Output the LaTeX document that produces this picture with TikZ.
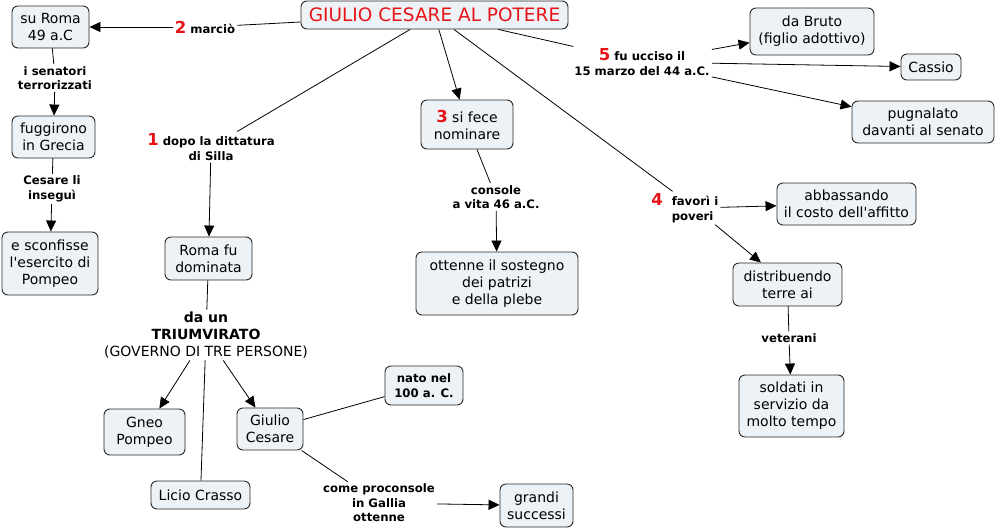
\documentclass[tikz,border=0pt]{standalone}
\usepackage{fontspec}
\setmainfont{DejaVu Sans}
\usetikzlibrary{arrows.meta}
\definecolor{boxfill}{RGB}{236,242,245}
\definecolor{boxline}{RGB}{40,40,40}
\definecolor{numred}{RGB}{230,20,25}
\newcommand{\boxfont}{\fontsize{14}{17}\selectfont}
\newcommand{\lblfont}{\fontsize{11.7}{14.5}\selectfont\bfseries}
\newcommand{\nm}[1]{{\fontsize{16.5}{14.5}\selectfont\bfseries\color{numred}#1}}
\newcommand{\apo}{\textquotesingle}
\tikzset{
  cbox/.style={draw=boxline, fill=boxfill, rounded corners=6pt, line width=0.9pt, align=center, font=\boxfont, inner sep=2pt},
  lbl/.style={align=center, font=\lblfont, inner sep=2pt},
  conn/.style={line width=0.8pt, draw=black},
  arr/.style={conn, -{Triangle[length=11pt,width=10pt]}},
}
\begin{document}
\begin{tikzpicture}[x=1pt,y=-1pt]
\useasboundingbox[fill=white] (0,0) rectangle (996,531);
% boxes
\node[cbox, minimum width=267, minimum height=28, text=numred, font=\fontsize{18.5}{20}\selectfont] (title) at (434.5,15) {GIULIO CESARE AL POTERE};
\node[cbox, minimum width=77, minimum height=42] (suroma) at (50.5,27) {su Roma\\49 a.C};
\node[cbox, minimum width=83, minimum height=42] (fugg) at (53.5,137) {fuggirono\\in Grecia};
\node[cbox, minimum width=96, minimum height=63] (scon) at (50,263.5) {e sconfisse\\l\apo esercito di\\Pompeo};
\node[cbox, minimum width=87, minimum height=43] (rfd) at (208.5,258.5) {Roma fu\\dominata};
\node[cbox, minimum width=81, minimum height=46] (gneo) at (144.5,432) {Gneo\\Pompeo};
\node[cbox, minimum width=99, minimum height=28] (licio) at (200.5,495) {Licio Crasso};
\node[cbox, minimum width=66, minimum height=42] (giulio) at (270,429) {Giulio\\Cesare};
\node[cbox, minimum width=78, minimum height=39, font=\lblfont] (nato) at (424,385.5) {nato nel\\100 a. C.};
\node[cbox, minimum width=73, minimum height=43] (grandi) at (536.5,505.5) {grandi\\successi};
\node[cbox, minimum width=92, minimum height=49] (tre) at (467,124.5) {\nm{3} si fece\\nominare};
\node[cbox, minimum width=162, minimum height=63] (ottenne) at (497,283.5) {ottenne il sostegno\\dei patrizi\\e della plebe};
\node[cbox, minimum width=139, minimum height=42] (abbass) at (846.5,204) {abbassando\\il costo dell\apo affitto};
\node[cbox, minimum width=109, minimum height=43] (distr) at (787.5,284.5) {distribuendo\\terre ai};
\node[cbox, minimum width=105, minimum height=62] (soldati) at (791.5,406) {soldati in\\servizio da\\molto tempo};
\node[cbox, minimum width=124, minimum height=47] (bruto) at (812,31.5) {da Bruto\\(figlio adottivo)};
\node[cbox, minimum width=60, minimum height=26] (cassio) at (931,67) {Cassio};
\node[cbox, minimum width=142, minimum height=42] (pugn) at (923,122) {pugnalato\\davanti al senato};
% labels
\node[lbl] (l2) at (205,27) {\nm{2} marciò};
\node[lbl] (lsen) at (55,78) {i senatori\\terrorizzati};
\node[lbl] (lces) at (52,189) {Cesare li\\inseguì};
\node[lbl] (l1) at (211,147) {\nm{1} dopo la dittatura\\di Silla};
\node[lbl, font=\boxfont] (trium) at (206,335) {\textbf{da un}\\\textbf{TRIUMVIRATO}\\(GOVERNO DI TRE PERSONE)};
\node[lbl] (come) at (379,503) {come proconsole\\in Gallia\\ottenne};
\node[lbl] (console) at (496,197) {console\\a vita 46 a.C.};
\node[lbl, align=left] (l4) at (695,208) {\llap{\nm{4}\hspace{9pt}}favorì i\\poveri};
\node[lbl] (vet) at (789,338) {veterani};
\node[lbl] (l5) at (642,62) {\nm{5} fu ucciso il\\15 marzo del 44 a.C.};
% connectors
\draw[conn] (title) -- (l2);
\draw[arr] (l2) -- (suroma);
\draw[conn] (suroma) -- (lsen);
\draw[arr] (lsen) -- (fugg);
\draw[conn] (fugg) -- (lces);
\draw[arr] (lces) -- (scon);
\draw[conn] (title) -- (l1);
\draw[arr] (l1) -- (rfd);
\draw[conn] (rfd) -- (trium);
\draw[arr] (trium) -- (gneo);
\draw[conn] (trium) -- (licio);
\draw[arr] (trium) -- (giulio);
\draw[conn] (giulio) -- (nato);
\draw[conn] (giulio) -- (come);
\draw[arr] (come) -- (grandi);
\draw[arr] (title) -- (tre);
\draw[conn] (tre) -- (console);
\draw[arr] (console) -- (ottenne);
\draw[conn] (title) -- (l4);
\draw[arr] (l4) -- (abbass);
\draw[arr] (l4) -- (distr);
\draw[conn] (distr) -- (vet);
\draw[arr] (vet) -- (soldati);
\draw[conn] (title) -- (l5);
\draw[arr] (l5) -- (bruto);
\draw[arr] (l5) -- (cassio);
\draw[arr] (l5) -- (pugn);
\end{tikzpicture}
\end{document}
